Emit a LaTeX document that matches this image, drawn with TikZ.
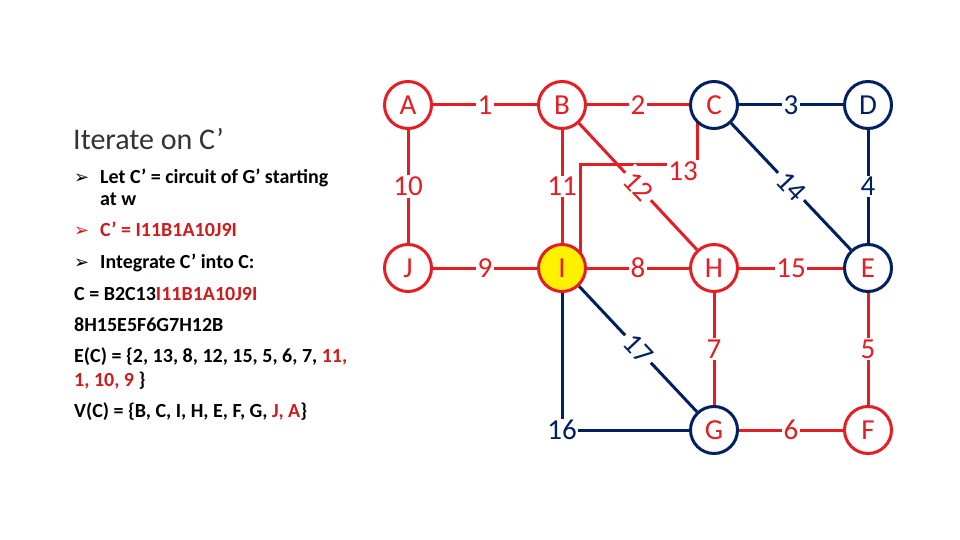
\documentclass[tikz,border=0pt]{standalone}
\usepackage{fontspec}
\setmainfont{Carlito}
\newfontfamily\bulletfont{DejaVu Sans}
\usetikzlibrary{backgrounds}

\definecolor{edgered}{RGB}{228,30,36}
\definecolor{edgenavy}{RGB}{0,32,96}
\definecolor{textred}{RGB}{204,28,28}
\newcommand{\bul}{{\bulletfont\fontsize{18}{18}\selectfont ➢}}

\begin{document}
\begin{tikzpicture}[x=1pt,y=-1pt,
  vtx/.style={circle, draw, line width=3pt, fill=white, minimum size=47pt,
    inner sep=0pt, font=\fontsize{29}{29}\selectfont},
  rv/.style={vtx, draw=edgered, text=edgered},
  nv/.style={vtx, draw=edgenavy, text=edgenavy},
  mv/.style={vtx, draw=edgenavy, text=edgered},
  wt/.style={fill=white, inner sep=1.5pt, font=\fontsize{29}{29}\selectfont},
  swt/.style={wt, sloped, inner sep=4pt},
  re/.style={color=edgered, line width=3pt},
  ne/.style={color=edgenavy, line width=3pt},
  ttl/.style={anchor=base west, inner sep=0pt, font=\fontsize{30}{30}\selectfont, text=black!80},
  txt/.style={anchor=base west, inner sep=0pt, font=\bfseries\fontsize{20}{20}\selectfont}]
  \useasboundingbox (0,0) rectangle (960,540);

  % left panel
  \node[ttl] (title) at (73,150) {Iterate on C’};
  \node[txt] (b1) at (74,183) {\bul};
  \node[txt] (t1) at (100,183) {Let C’ = circuit of G’ starting};
  \node[txt] (t1b) at (100,205) {at w};
  \node[txt, text=textred] (b2) at (74,236) {\bul};
  \node[txt, text=textred] (t2) at (100,236) {C’ = I11B1A10J9I};
  \node[txt] (b3) at (74,268) {\bul};
  \node[txt] (t3) at (100,268) {Integrate C’ into C:};
  \node[txt] (t4) at (74,300) {C = B2C13\textcolor{textred}{I11B1A10J9I}};
  \node[txt] (t5) at (74,331) {8H15E5F6G7H12B};
  \node[txt] (t6) at (74,362) {E(C) = \{2, 13, 8, 12, 15, 5, 6, 7, \textcolor{textred}{11,}};
  \node[txt] (t7) at (74,386) {\textcolor{textred}{1, 10, 9} \}};
  \node[txt] (t8) at (74,417) {V(C) = \{B, C, I, H, E, F, G, \textcolor{textred}{J, A}\}};

  % vertices
  \node[rv] (A) at (408,105) {A};
  \node[rv] (B) at (562,105) {B};
  \node[mv] (C) at (714,105) {C};
  \node[nv] (D) at (868,105) {D};
  \node[rv] (J) at (408,268) {J};
  \node[rv, fill=yellow] (I) at (562,268) {I};
  \node[rv] (H) at (714,268) {H};
  \node[mv] (E) at (868,268) {E};
  \node[mv] (G) at (714,430) {G};
  \node[rv] (F) at (868,430) {F};
  \coordinate (k13) at (697,165);

  % edges
  \begin{pgfonlayer}{background}
    \draw[re] (A) -- node[wt]{1} (B);
    \draw[re] (B) -- node[wt]{2} (C);
    \draw[ne] (C) -- node[wt]{3} (D);
    \draw[ne] (D) -- node[wt]{4} (E);
    \draw[re] (A) -- node[wt]{10} (J);
    \draw[re] (B) -- node[wt]{11} (I);
    \draw[re] (J) -- node[wt]{9} (I);
    \draw[re] (I) -- node[wt]{8} (H);
    \draw[re] (H) -- node[wt]{15} (E);
    \draw[re] (E) -- node[wt]{5} (F);
    \draw[re] (G) -- node[wt]{6} (F);
    \draw[re] (H) -- node[wt]{7} (G);
    \draw[re] ([xshift=18pt]I.center) |- (k13)
      node[wt, xshift=-14pt, yshift=-6pt]{13} -- (k13 |- C.center);
    \draw[re] (B) -- node[swt]{12} (H);
    \draw[ne] (C) -- node[swt]{14} (E);
    \draw[ne] (I) -- node[swt]{17} (G);
    \draw[ne] (I) -- (I |- G) node[wt]{16} -- (G);
  \end{pgfonlayer}
\end{tikzpicture}
\end{document}
